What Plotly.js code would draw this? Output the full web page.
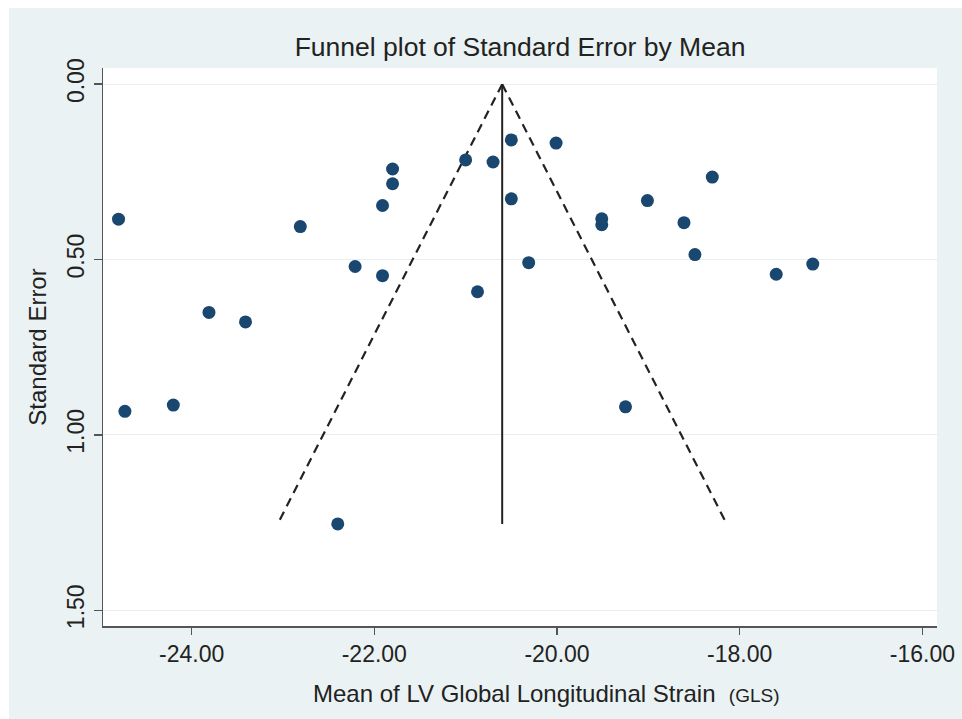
<!DOCTYPE html>
<html>
<head>
<meta charset="utf-8">
<script src="https://cdn.plot.ly/plotly-3.0.1.min.js"></script>
<style>html,body{margin:0;padding:0;background:#fff;}#chart{width:962px;height:719px;}</style>
</head>
<body>
<div id="chart"></div>
<script>
// Study means (LV GLS) and their standard errors
const meanValues = [-24.80, -21.80, -21.80, -21.91, -22.81, -22.21, -21.91, -23.81, -23.41, -24.73,
                    -24.20, -22.40, -20.50, -20.01, -21.00, -20.70, -20.50, -19.51, -19.51, -19.01,
                    -18.61, -18.49, -20.31, -20.87, -18.30, -17.60, -17.20, -19.25];
const seValues   = [0.385, 0.242, 0.284, 0.346, 0.406, 0.520, 0.546, 0.651, 0.678, 0.933,
                    0.915, 1.254, 0.159, 0.168, 0.216, 0.222, 0.327, 0.384, 0.401, 0.332,
                    0.395, 0.486, 0.509, 0.592, 0.265, 0.542, 0.513, 0.920];
const pooledMean = -20.60;
const xTickVals = [-24, -22, -20, -18, -16];
const xTickText = ["-24.00", "-22.00", "-20.00", "-18.00", "-16.00"];
const yTickVals = [0, 0.5, 1.0, 1.5];
const yTickText = ["0.00", "0.50", "1.00", "1.50"];

const maxSE = Math.max(...seValues);
const z = 1.96;

const textColor = "#222222";
const font = "Liberation Sans, Arial, Helvetica, sans-serif";

const traces = [
  { // left funnel edge (from apex down)
    x: [pooledMean, pooledMean - z * maxSE], y: [0, maxSE],
    mode: "lines", line: {color: "#222", width: 2.2, dash: "9px,6px"},
    hoverinfo: "skip", showlegend: false, type: "scatter"
  },
  { // right funnel edge
    x: [pooledMean, pooledMean + z * maxSE], y: [0, maxSE],
    mode: "lines", line: {color: "#222", width: 2.2, dash: "9px,6px"},
    hoverinfo: "skip", showlegend: false, type: "scatter"
  },
  { // pooled mean line
    x: [pooledMean, pooledMean], y: [0, maxSE],
    mode: "lines", line: {color: "#222", width: 2},
    hoverinfo: "skip", showlegend: false, type: "scatter"
  },
  {
    x: meanValues, y: seValues, mode: "markers", type: "scatter",
    marker: {color: "#1a476f", size: 13, line: {width: 0}},
    showlegend: false
  }
];

// Plot area in pixels: x 103..937, y 68..626
const W = 962, H = 719, L = 103, R = 937, T = 68, B = 626;
const pw = R - L, ph = B - T;
const px = v => (v - L) / pw;
const py = v => (B - v) / ph;

const layout = {
  width: W, height: H,
  margin: {l: L, r: W - R, t: T, b: H - B, pad: 0},
  paper_bgcolor: "#ffffff",
  plot_bgcolor: "#ffffff",
  font: {family: font, color: textColor, size: 23},
  title: {
    text: "Funnel plot of Standard Error by Mean",
    font: {family: font, size: 26.5, color: textColor},
    x: 0.5, xref: "paper", xanchor: "center",
    y: 1 - 47 / H, yref: "container", yanchor: "middle"
  },
  xaxis: {
    range: [-24.97, -15.84],
    tickvals: xTickVals, ticktext: xTickText,
    ticks: "outside", ticklen: 7, tickwidth: 1.3, tickcolor: "#555",
    showline: true, linecolor: "#555", linewidth: 1.5,
    showgrid: false, zeroline: false,
    tickfont: {family: font, size: 23, color: textColor}
  },
  yaxis: {
    range: [1.545, -0.046],
    tickvals: yTickVals, ticktext: yTickText, tickangle: -90,
    ticks: "outside", ticklen: 8, tickwidth: 1.3, tickcolor: "#555",
    showline: true, linecolor: "#555", linewidth: 1.5,
    showgrid: true, gridcolor: "#e6eff1", gridwidth: 1.2,
    zeroline: false,
    tickfont: {family: font, size: 23, color: textColor},
    title: {
      text: "Standard Error",
      font: {family: font, size: 24, color: textColor},
      standoff: 10
    }
  },
  annotations: [
    {
      text: "Mean of LV Global Longitudinal Strain \u00a0<span style=\"font-size:19px\">(GLS)</span>",
      xref: "paper", yref: "paper", x: px(546), y: py(693),
      xanchor: "center", yanchor: "middle", showarrow: false,
      font: {family: font, size: 24, color: textColor}
    }
  ],
  shapes: [
    {type: "rect", xref: "paper", yref: "paper", layer: "below",
     x0: px(9), x1: px(W + 5), y0: py(H + 5), y1: py(8),
     fillcolor: "#eaf2f3", line: {width: 0}},
    {type: "rect", xref: "paper", yref: "paper", layer: "below",
     x0: 0, x1: 1, y0: 0, y1: 1,
     fillcolor: "#ffffff", line: {width: 0}}
  ]
};

Plotly.newPlot("chart", traces, layout, {staticPlot: true, displayModeBar: false});
</script>
</body>
</html>
